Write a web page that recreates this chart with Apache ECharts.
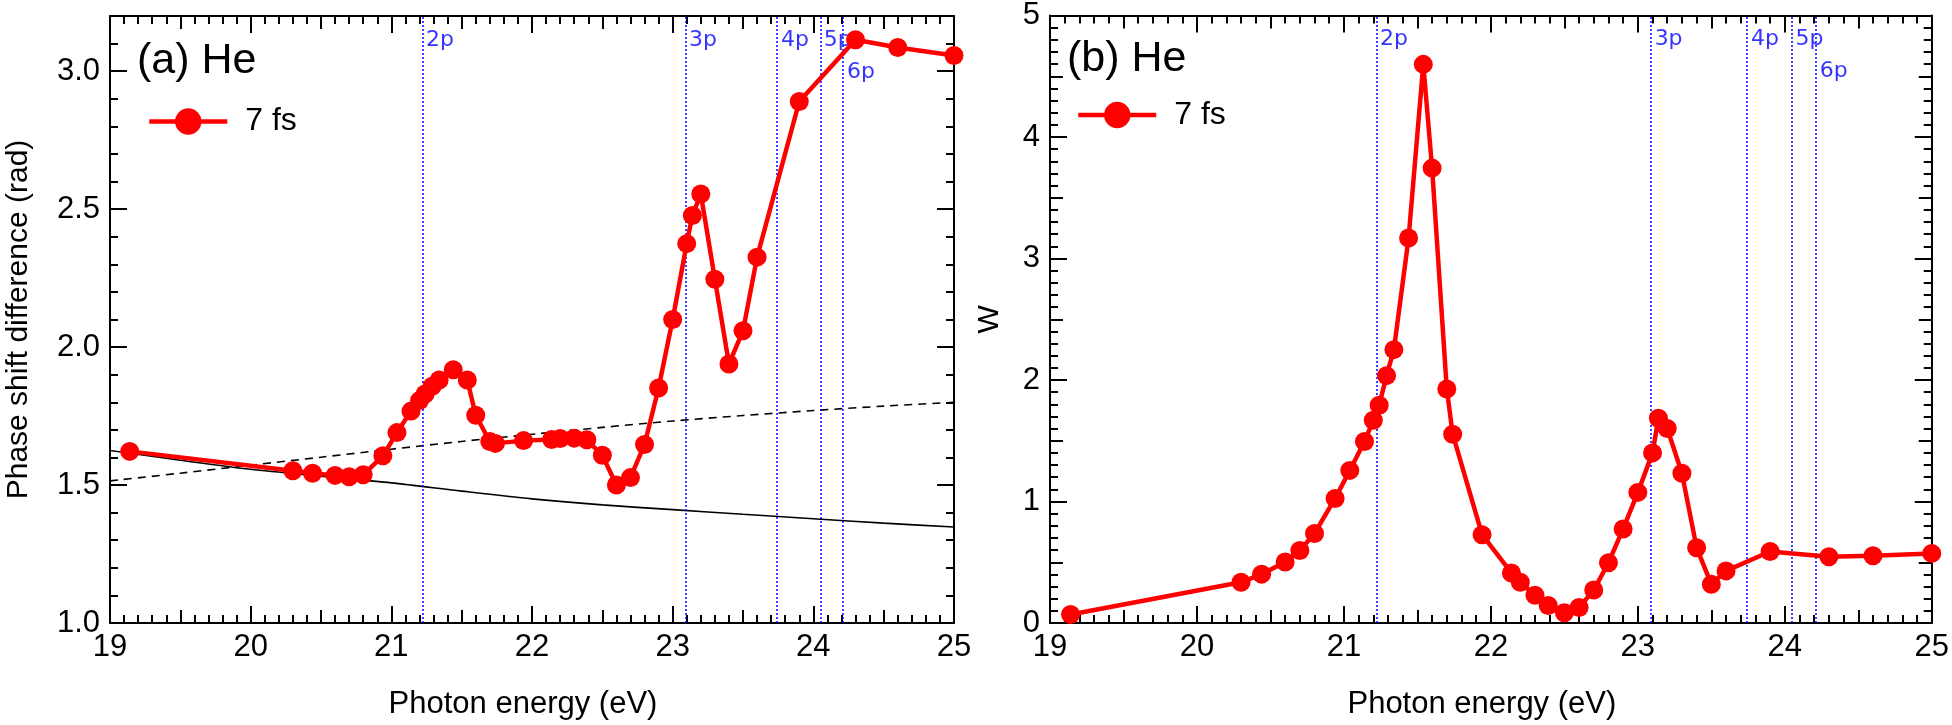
<!DOCTYPE html>
<html><head><meta charset="utf-8">
<script src="https://cdn.jsdelivr.net/npm/echarts@6/dist/echarts.min.js"></script>
<style>html,body{margin:0;padding:0;background:#fff}#c{width:1952px;height:725px}</style>
</head><body><div id="c"></div>
<script>
// ---- data ----
const energies = [19.14, 20.30, 20.44, 20.60, 20.70, 20.80, 20.94, 21.04, 21.14, 21.20,
  21.24, 21.29, 21.34, 21.44, 21.54, 21.60, 21.70, 21.74, 21.94, 22.14,
  22.20, 22.30, 22.39, 22.50, 22.60, 22.70, 22.80, 22.90, 23.00, 23.10,
  23.14, 23.20, 23.30, 23.40, 23.50, 23.60, 23.90, 24.30, 24.60, 25.00];
const phaseShift = [1.622, 1.552, 1.543, 1.535, 1.530, 1.537, 1.606, 1.690, 1.768, 1.806,
  1.830, 1.858, 1.881, 1.918, 1.881, 1.753, 1.658, 1.651, 1.661, 1.665,
  1.669, 1.670, 1.664, 1.608, 1.500, 1.527, 1.647, 1.852, 2.100, 2.375,
  2.477, 2.555, 2.246, 1.939, 2.059, 2.326, 2.890, 3.114, 3.086, 3.057];
const wValues = [0.070, 0.335, 0.402, 0.502, 0.596, 0.737, 1.025, 1.256, 1.494, 1.668,
  1.792, 2.036, 2.250, 3.168, 4.598, 3.744, 1.926, 1.554, 0.727, 0.412,
  0.335, 0.228, 0.144, 0.084, 0.127, 0.271, 0.496, 0.774, 1.075, 1.400,
  1.685, 1.601, 1.232, 0.620, 0.318, 0.429, 0.589, 0.546, 0.553, 0.573];
const refEnergies = [19, 19.5, 20, 20.5, 21, 21.5, 22, 22.5, 23, 23.5, 24, 24.5, 25];
const refSolid = [1.625, 1.590, 1.557, 1.532, 1.508, 1.478, 1.450, 1.428, 1.411, 1.394, 1.378, 1.362, 1.348];
const refDashed = [1.515, 1.543, 1.572, 1.601, 1.630, 1.658, 1.684, 1.709, 1.732, 1.752, 1.770, 1.786, 1.800];
const resonanceNames = ['2p', '3p', '4p', '5p', '6p'];
const resonanceEnergies = [21.218, 23.087, 23.742, 24.046, 24.211];
const seriesName = '7 fs';
const panelTitles = ['(a) He', '(b) He'];
const xName = 'Photon energy (eV)';
const yNames = ['Phase shift difference (rad)', 'W'];

// ---- layout / style ----
const FONT = 'Liberation Sans, Arial, Helvetica, sans-serif';
const RES_FONT = 'DejaVu Sans, Verdana, sans-serif';
const grids = [
  {left: 110, top: 16, width: 844, height: 607},
  {left: 1050, top: 15, width: 886, height: 608}
];
const yRanges = [[1, 3.2], [0, 5]];
const BLUE = '#0000ff', RED = '#ff0000';

function xAx(g, pos, interval, len, main) {
  return {
    type: 'value', gridIndex: g, position: pos, min: 19, max: 25, interval: interval,
    axisLine: {show: main, onZero: false, lineStyle: {color: '#000', width: 2}},
    axisTick: {show: true, inside: true, length: len, lineStyle: {color: '#000', width: 2}},
    axisLabel: {show: main && pos === 'bottom', margin: 9, color: '#000', fontSize: 31, fontFamily: FONT},
    splitLine: {show: false},
    name: (main && pos === 'bottom') ? xName : '',
    nameLocation: 'middle', nameGap: 66,
    nameTextStyle: {fontSize: 31, color: '#000', fontFamily: FONT, padding: [0, 18, 0, 0]}
  };
}
function yAx(g, pos, interval, len, main, fmt) {
  const r = yRanges[g];
  return {
    type: 'value', gridIndex: g, position: pos, min: r[0], max: r[1], interval: interval,
    axisLine: {show: main, onZero: false, lineStyle: {color: '#000', width: 2}},
    axisTick: {show: true, inside: true, length: len, lineStyle: {color: '#000', width: 2}},
    axisLabel: {show: main && pos === 'left', margin: 10, color: '#000', fontSize: 31, fontFamily: FONT,
      showMaxLabel: g === 0 ? false : true, formatter: fmt},
    splitLine: {show: false},
    name: (main && pos === 'left') ? yNames[g] : '',
    nameLocation: 'middle', nameGap: g === 0 ? 76 : 45, nameRotate: 90,
    nameTextStyle: {fontSize: 30, color: '#000', fontFamily: FONT}
  };
}
const f1 = v => v.toFixed(1);
const f0 = v => String(Math.round(v));

const xAxes = [];
const yAxes = [];
[0, 1].forEach(g => {
  xAxes.push(xAx(g, 'bottom', 1, 17, true));
  xAxes.push(xAx(g, 'bottom', 0.5, 13, false));
  xAxes.push(xAx(g, 'bottom', 0.1, 8, false));
  xAxes.push(xAx(g, 'top', 1, 17, true));
  xAxes.push(xAx(g, 'top', 0.5, 13, false));
  xAxes.push(xAx(g, 'top', 0.1, 8, false));
});
yAxes.push(yAx(0, 'left', 0.5, 17, true, f1));
yAxes.push(yAx(0, 'left', 0.1, 8, false, f1));
yAxes.push(yAx(0, 'right', 0.5, 17, true, f1));
yAxes.push(yAx(0, 'right', 0.1, 8, false, f1));
yAxes.push(yAx(1, 'left', 1, 17, true, f0));
yAxes.push(yAx(1, 'left', 0.5, 13, false, f0));
yAxes.push(yAx(1, 'left', 0.1, 8, false, f0));
yAxes.push(yAx(1, 'right', 1, 17, true, f0));
yAxes.push(yAx(1, 'right', 0.5, 13, false, f0));
yAxes.push(yAx(1, 'right', 0.1, 8, false, f0));

const X0 = 0, Y0 = 0, X1 = 6, Y1 = 4;

function labelY(g, pxFromTop) {
  const r = yRanges[g];
  return r[1] - pxFromTop / grids[g].height * (r[1] - r[0]);
}
const resLabel = {show: true, position: 'right', distance: 4, color: BLUE, fontSize: 22, fontFamily: RES_FONT};
function resonanceSeries(g, xi, yi) {
  return {
    type: 'scatter', xAxisIndex: xi, yAxisIndex: yi, silent: true, symbolSize: 0, z: 1,
    data: resonanceEnergies.map((e, i) => ({
      value: [e, labelY(g, i === 4 ? 56 : 24)],
      label: Object.assign({}, resLabel, {formatter: resonanceNames[i]})
    })),
    label: resLabel,
    markLine: {
      silent: true, symbol: ['none', 'none'], animation: false,
      label: {show: false},
      lineStyle: {color: BLUE, type: [2, 2], width: 1.5},
      data: resonanceEnergies.map(e => ({xAxis: e}))
    }
  };
}
function mainSeries(xi, yi, vals) {
  return {
    name: seriesName, type: 'line', xAxisIndex: xi, yAxisIndex: yi, z: 5,
    data: energies.map((e, i) => [e, vals[i]]),
    symbol: 'circle', symbolSize: 19, showSymbol: true,
    itemStyle: {color: RED}, lineStyle: {color: RED, width: 4.5}
  };
}
const legendCommon = {
  padding: 0, itemWidth: 78, itemHeight: 33, data: [seriesName], selectedMode: false,
  lineStyle: {width: 4.5, color: RED}, itemStyle: {color: RED},
  textStyle: {fontSize: 32, color: '#000', fontFamily: FONT, padding: [0, 0, 0, 13]}
};

const option = {
  animation: false,
  backgroundColor: '#fff',
  textStyle: {fontFamily: FONT},
  title: [
    {text: panelTitles[0], left: 137, top: 40, padding: 0, textStyle: {fontSize: 43, fontWeight: 'normal', color: '#000', fontFamily: FONT}},
    {text: panelTitles[1], left: 1067, top: 38, padding: 0, textStyle: {fontSize: 43, fontWeight: 'normal', color: '#000', fontFamily: FONT}}
  ],
  legend: [
    Object.assign({left: 147, top: 105.5}, legendCommon),
    Object.assign({left: 1076, top: 99}, legendCommon)
  ],
  grid: grids,
  xAxis: xAxes,
  yAxis: yAxes,
  series: [
    {type: 'line', xAxisIndex: X0, yAxisIndex: Y0, data: refEnergies.map((e, i) => [e, refSolid[i]]),
      symbol: 'none', smooth: 0.3, lineStyle: {color: '#000', width: 1.6}, z: 3, silent: true},
    {type: 'line', xAxisIndex: X0, yAxisIndex: Y0, data: refEnergies.map((e, i) => [e, refDashed[i]]),
      symbol: 'none', smooth: 0.3, lineStyle: {color: '#000', width: 1.6, type: [8, 6]}, z: 3, silent: true},
    resonanceSeries(0, X0, Y0),
    mainSeries(X0, Y0, phaseShift),
    resonanceSeries(1, X1, Y1),
    mainSeries(X1, Y1, wValues)
  ]
};
const chart = echarts.init(document.getElementById('c'));
chart.setOption(option);
</script>
</body></html>
